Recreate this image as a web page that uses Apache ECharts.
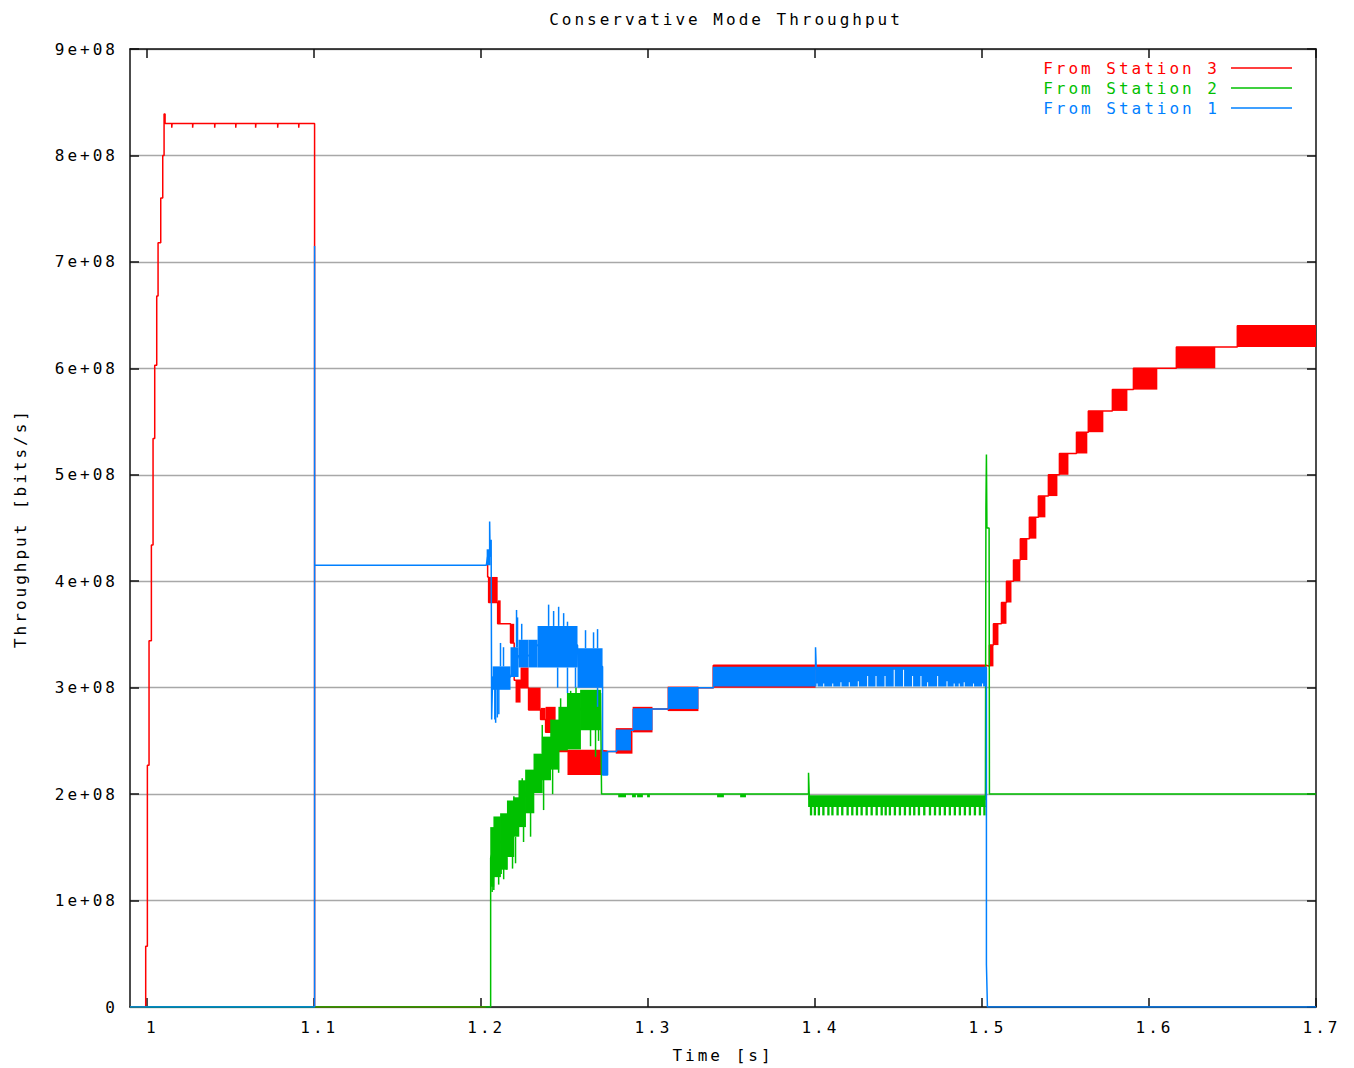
<!DOCTYPE html>
<html>
<head>
<meta charset="utf-8">
<script src="https://cdn.jsdelivr.net/npm/echarts@6.0.0/dist/echarts.min.js"></script>
<style>
html, body { margin: 0; padding: 0; background: #ffffff; }
#chart { width: 1354px; height: 1068px; }
#chart text { letter-spacing: 3px; }
</style>
</head>
<body>
<div id="chart"></div>
<script>
// ---------------- data (time in s, throughput in units of 1e8 bits/s) ----------------
const titleText = 'Conservative Mode Throughput';
const xName = 'Time [s]';
const yName = 'Throughput [bits/s]';
const xTickValues = [1.0, 1.1, 1.2, 1.3, 1.4, 1.5, 1.6, 1.7];
const seriesNames = ['From Station 3', 'From Station 2', 'From Station 1'];
const seriesColors = ['#ff0000', '#00c000', '#0080ff'];

// Station 3 (red) trace
const redLine = [
  [0.99, 0], [0.9994, 0], [0.9994, 0.57], [1.0004, 0.57], [1.0004, 2.27], [1.0014, 2.27],
  [1.0014, 3.44], [1.0028, 3.44], [1.0028, 4.34], [1.0038, 4.34], [1.0038, 5.34], [1.0048, 5.34],
  [1.0048, 6.03], [1.0060, 6.03], [1.0060, 6.68], [1.0068, 6.68], [1.0068, 7.18], [1.0084, 7.18],
  [1.0084, 7.6], [1.0096, 7.6], [1.0096, 8.0], [1.0104, 8.0], [1.0104, 8.39], [1.0110, 8.39],
  [1.0110, 8.3], [1.0150, 8.3], [1.0150, 8.26], [1.0152, 8.3], [1.0275, 8.3], [1.0275, 8.26],
  [1.0277, 8.3], [1.0407, 8.3], [1.0407, 8.26], [1.0409, 8.3], [1.0533, 8.3], [1.0533, 8.26],
  [1.0535, 8.3], [1.0652, 8.3], [1.0652, 8.26], [1.0654, 8.3], [1.0784, 8.3], [1.0784, 8.26],
  [1.0786, 8.3], [1.0910, 8.3], [1.0910, 8.26], [1.0912, 8.3], [1.1005, 8.3], [1.1005, 0],
  [1.2030, 0], [1.2032, null],
  [1.2035, 4.15], [1.2041, 4.15], [1.2041, 4.04], [1.2047, 4.04], [1.2047, 3.8], [1.2101, 3.8],
  [1.2101, 3.6], [1.2178, 3.6], [1.2178, 3.42], [1.2200, 3.42], [1.2200, 3.07], [1.2238, 3.07],
  [1.2238, 3.0], [1.2286, 3.0], [1.2286, 2.79], [1.2358, 2.79], [1.2358, 2.7], [1.2388, 2.7],
  [1.2388, 2.58], [1.2448, 2.58], [1.2448, 2.4], [1.2519, 2.4], [1.2519, 2.41], [1.2729, 2.41],
  [1.2759, 2.4], [1.2813, 2.4], [1.2813, 2.6], [1.2914, 2.6], [1.2914, 2.8], [1.3124, 2.8],
  [1.3124, 3.0], [1.3393, 3.0], [1.3393, 3.21], [1.5027, 3.21], [1.5045, 3.2], [1.5045, 3.4],
  [1.5069, 3.4], [1.5069, 3.6], [1.5117, 3.6], [1.5117, 3.8], [1.5147, 3.8], [1.5147, 4.0],
  [1.5189, 4.0], [1.5189, 4.2], [1.5230, 4.2], [1.5230, 4.4], [1.5284, 4.4], [1.5284, 4.6],
  [1.5338, 4.6], [1.5338, 4.8], [1.5398, 4.8], [1.5398, 5.0], [1.5464, 5.0], [1.5464, 5.2],
  [1.5566, 5.2], [1.5566, 5.4], [1.5637, 5.4], [1.5637, 5.6], [1.5781, 5.6], [1.5781, 5.8],
  [1.5907, 5.8], [1.5907, 6.0], [1.6164, 6.0], [1.6164, 6.2], [1.6529, 6.2], [1.6529, 6.4],
  [1.7, 6.4]
];
// Station 3 oscillation bands [tStart, tEnd, low, high]
const redBands = [
  [1.2047, 1.2101, 3.8, 4.04], [1.2101, 1.2119, 3.6, 3.82], [1.2178, 1.2200, 3.42, 3.6],
  [1.2208, 1.2238, 2.86, 3.07], [1.2238, 1.2286, 3.0, 3.19], [1.2286, 1.2358, 2.79, 3.0],
  [1.2358, 1.2388, 2.7, 2.81], [1.2388, 1.2448, 2.58, 2.82], [1.2448, 1.2519, 2.4, 2.62],
  [1.2519, 1.2729, 2.18, 2.41], [1.2729, 1.2759, 2.18, 2.41], [1.2808, 1.2908, 2.38, 2.62],
  [1.2909, 1.3028, 2.58, 2.82], [1.3119, 1.3303, 2.78, 3.01], [1.3388, 1.4004, 3.0, 3.21],
  [1.4004, 1.5027, 3.17, 3.21],
  [1.5045, 1.5069, 3.2, 3.4], [1.5069, 1.5099, 3.4, 3.6], [1.5117, 1.5147, 3.6, 3.8],
  [1.5147, 1.5177, 3.8, 4.0], [1.5189, 1.5230, 4.0, 4.2], [1.5230, 1.5272, 4.2, 4.4],
  [1.5284, 1.5326, 4.4, 4.6], [1.5338, 1.5380, 4.6, 4.8], [1.5398, 1.5452, 4.8, 5.0],
  [1.5464, 1.5518, 5.0, 5.2], [1.5566, 1.5631, 5.2, 5.4], [1.5637, 1.5727, 5.4, 5.6],
  [1.5781, 1.5871, 5.6, 5.8], [1.5907, 1.6050, 5.8, 6.0], [1.6164, 1.6397, 6.0, 6.2],
  [1.6529, 1.7, 6.2, 6.4]
];

// Station 2 (green) trace
const greenLine = [
  [0.99, 0], [1.2059, 0], [1.2059, 1.4], [1.2078, 1.5], [1.2118, 1.55], [1.2159, 1.65],
  [1.2198, 1.8], [1.2228, 1.9], [1.2268, 2.0], [1.2318, 2.2], [1.2368, 2.35], [1.2418, 2.5],
  [1.2467, 2.6], [1.2518, 2.7], [1.2597, 2.8], [1.2717, 2.95], [1.2723, 2.0], [1.3962, 2.0],
  [1.3962, 2.2], [1.3966, 2.0], [1.3966, 1.95], [1.5021, 1.95], [1.5021, 1.99], [1.5024, 4.68],
  [1.5027, 5.19], [1.5030, 4.5], [1.5043, 4.5], [1.5045, 2.0], [1.7, 2.0]
];
const greenBands = [
  [1.2059, 1.2078, 1.13, 1.69], [1.2078, 1.2118, 1.22, 1.79], [1.2118, 1.2159, 1.29, 1.82],
  [1.2159, 1.2198, 1.41, 1.94], [1.2198, 1.2228, 1.6, 1.97], [1.2228, 1.2268, 1.69, 2.13],
  [1.2268, 1.2318, 1.82, 2.23], [1.2318, 1.2368, 2.01, 2.38], [1.2368, 1.2418, 2.13, 2.54],
  [1.2418, 1.2467, 2.23, 2.7], [1.2467, 1.2518, 2.41, 2.82], [1.2518, 1.2597, 2.42, 2.95],
  [1.2597, 1.2717, 2.6, 2.98], [1.3962, 1.5021, 1.88, 1.99],
  [1.2825, 1.2867, 1.97, 2.0], [1.2908, 1.2926, 1.97, 2.0], [1.2938, 1.2968, 1.97, 2.0],
  [1.2998, 1.3010, 1.97, 2.0], [1.3417, 1.3453, 1.97, 2.0], [1.3555, 1.3585, 1.97, 2.0]
];
// Station 2 short excursions [t, low, high]
const greenSpikes = [
  [1.2068, 1.08, 1.3], [1.2078, 1.1, 1.3], [1.2107, 1.15, 1.3], [1.2122, 1.25, 1.4],
  [1.2137, 1.2, 1.35], [1.2154, 1.29, 1.4], [1.2190, 1.3, 1.5], [1.2208, 1.35, 1.6],
  [1.2256, 1.55, 1.75], [1.2298, 1.6, 1.85], [1.2376, 1.85, 2.15], [1.2430, 2.0, 2.25],
  [1.2466, 2.2, 2.45], [1.2657, 2.45, 2.65], [1.2687, 2.35, 2.65], [1.2705, 2.5, 2.65],
  [1.2089, 1.7, 1.76], [1.2198, 1.9, 1.98], [1.2248, 2.05, 2.15], [1.2368, 2.38, 2.65],
  [1.2478, 2.7, 2.9], [1.2538, 2.9, 2.97], [1.2570, 2.9, 3.0]
];
// Station 2 teeth between 1.4 s and 1.5 s (start time of each tooth)
const greenTeeth = [
  1.3970, 1.3993, 1.4017, 1.4044, 1.4074, 1.4098, 1.4129, 1.4157, 1.4189, 1.4217, 1.4245,
  1.4273, 1.4303, 1.4333, 1.4363, 1.4393, 1.4417, 1.4442, 1.4472, 1.4502, 1.4532, 1.4562,
  1.4588, 1.4616, 1.4648, 1.4682, 1.4712, 1.4741, 1.4771, 1.4801, 1.4831, 1.4861, 1.4891,
  1.4921, 1.4951, 1.4981, 1.5008
];
const greenToothLow = 1.80;
const greenToothHigh = 1.89;

// Station 1 (blue) trace
const blueLine = [
  [0.99, 0], [1.1005, 0], [1.1005, 7.15], [1.1005, 4.15], [1.2033, 4.15], [1.2041, 4.23],
  [1.2053, 4.23], [1.2053, 4.56], [1.2056, 4.23], [1.2062, 4.39], [1.2065, 2.7], [1.2071, 3.1],
  [1.2178, 3.1], [1.2226, 3.3], [1.2286, 3.3], [1.2340, 3.4], [1.2579, 3.4], [1.2583, 3.2],
  [1.2729, 3.2], [1.2729, 2.18], [1.2759, 2.18], [1.2759, 2.4], [1.2813, 2.4], [1.2813, 2.6],
  [1.2914, 2.6], [1.2914, 2.8], [1.3124, 2.8], [1.3124, 3.0], [1.3393, 3.0], [1.3393, 3.19],
  [1.4004, 3.19], [1.4004, 3.38], [1.4008, 3.19], [1.5027, 3.19], [1.5027, 0.4], [1.5033, 0],
  [1.7, 0]
];
const blueBands = [
  [1.2035, 1.2059, 4.15, 4.3], [1.2071, 1.2178, 2.98, 3.2], [1.2178, 1.2226, 3.1, 3.38],
  [1.2226, 1.2286, 3.19, 3.45], [1.2286, 1.2340, 3.19, 3.45], [1.2340, 1.2579, 3.19, 3.58],
  [1.2579, 1.2729, 3.0, 3.37], [1.2729, 1.2759, 2.18, 2.4], [1.2813, 1.2899, 2.41, 2.6],
  [1.2914, 1.3028, 2.6, 2.8], [1.3124, 1.3303, 2.8, 3.0], [1.3393, 1.4006, 3.01, 3.19]
];
// Station 1 band between 1.4 s and 1.5 s, and the short pauses inside it [t, level reached]
const blueLateBand = [1.4004, 1.5027, 3.01, 3.19];
const blueNotches = [
  [1.4010, 3.04], [1.4050, 3.04], [1.4104, 3.04], [1.4153, 3.05], [1.4203, 3.05], [1.4257, 3.06],
  [1.4313, 3.11], [1.4363, 3.11], [1.4417, 3.11], [1.4472, 3.17], [1.4528, 3.17], [1.4582, 3.11],
  [1.4632, 3.11], [1.4672, 3.05], [1.4732, 3.11], [1.4788, 3.06], [1.4831, 3.04], [1.4861, 3.04],
  [1.4891, 3.05], [1.4947, 3.04], [1.5001, 3.04]
];
const blueSpikes = [
  [1.2084, 2.7, 3.0], [1.2089, 2.67, 3.0], [1.2099, 2.72, 3.0], [1.2108, 2.75, 3.0],
  [1.2118, 3.2, 3.42], [1.2136, 3.2, 3.38], [1.2214, 3.38, 3.73], [1.2220, 3.38, 3.66],
  [1.2245, 3.45, 3.6], [1.2406, 3.58, 3.78], [1.2436, 3.58, 3.72], [1.2466, 3.58, 3.76],
  [1.2496, 3.58, 3.7], [1.2519, 3.58, 3.62], [1.2460, 3.0, 3.19], [1.2519, 2.95, 3.19],
  [1.2567, 3.0, 3.19], [1.2627, 3.37, 3.54], [1.2675, 3.37, 3.52], [1.2699, 3.37, 3.55],
  [1.2699, 2.82, 3.0]
];

// ---------------- chart ----------------
const FONT = "'DejaVu Sans Mono', monospace";
const FS = 16;
const chart = echarts.init(document.getElementById('chart'), null, { renderer: 'svg' });

function lineSeries(idx, data) {
  return {
    type: 'line', name: seriesNames[idx], data: data, showSymbol: false, symbol: 'none',
    connectNulls: false, silent: true, clip: true, z: 2 + idx,
    lineStyle: { color: seriesColors[idx], width: 1.5 },
    itemStyle: { color: seriesColors[idx] }
  };
}
function bandSeries(idx, data, pad) {
  const color = seriesColors[idx];
  const p = pad || 0;
  return {
    type: 'custom', name: seriesNames[idx], data: data, silent: true, clip: true, z: 2 + idx,
    encode: { x: [0, 1], y: [2, 3] },
    renderItem: function (params, api) {
      const a = api.coord([api.value(0), api.value(3)]);
      const b = api.coord([api.value(1), api.value(2)]);
      return { type: 'rect', shape: { x: a[0] - p, y: a[1], width: Math.max(b[0] - a[0], 1.2) + 2 * p, height: Math.max(b[1] - a[1], 1) },
        style: { fill: color } };
    }
  };
}
// one band drawn as a single outline, with narrow pauses cut out of its lower part
function notchedBandSeries(idx, band, notches, w) {
  const color = seriesColors[idx];
  return {
    type: 'custom', name: seriesNames[idx], data: [band], silent: true, clip: true, z: 2 + idx,
    encode: { x: [0, 1], y: [2, 3] },
    renderItem: function (params, api) {
      const t0 = api.value(0), t1 = api.value(1), lo = api.value(2), hi = api.value(3);
      const pts = [api.coord([t0, hi]), api.coord([t1, hi]), api.coord([t1, lo])];
      for (let i = notches.length - 1; i >= 0; i--) {
        const t = notches[i][0], lvl = notches[i][1];
        pts.push(api.coord([t + w, lo]), api.coord([t + w, lvl]), api.coord([t, lvl]), api.coord([t, lo]));
      }
      pts.push(api.coord([t0, lo]));
      return { type: 'polygon', shape: { points: pts }, style: { fill: color } };
    }
  };
}
function spikeSeries(idx, data) {
  const color = seriesColors[idx];
  return {
    type: 'custom', name: seriesNames[idx], data: data, silent: true, clip: true, z: 2 + idx,
    encode: { x: 0, y: [1, 2] },
    renderItem: function (params, api) {
      const a = api.coord([api.value(0), api.value(1)]);
      const b = api.coord([api.value(0), api.value(2)]);
      return { type: 'line', shape: { x1: a[0], y1: a[1], x2: b[0], y2: b[1] },
        style: { stroke: color, lineWidth: 1.5 } };
    }
  };
}
const toothBands = greenTeeth.map(t => [t, t + 0.0014, greenToothLow, greenToothHigh]);

const axisLineStyle = { color: '#111', width: 1.5 };
const tickStyle = { color: '#111', width: 1.5 };
const textBase = { fontFamily: FONT, fontSize: FS, color: '#000' };

const option = {
  animation: false,
  backgroundColor: '#ffffff',
  title: {
    text: titleText, left: 726, top: 11, textAlign: 'center', padding: 0,
    textStyle: Object.assign({ fontWeight: 'normal' }, textBase)
  },
  legend: {
    data: seriesNames.map((n, i) => ({ name: n, icon: 'rect', textStyle: { color: seriesColors[i] } })),
    orient: 'vertical', align: 'right', right: 62, top: 58, padding: 0,
    itemWidth: 61, itemHeight: 1.5, itemGap: 0, selectedMode: false,
    textStyle: { fontFamily: FONT, fontSize: FS, lineHeight: 20, padding: [0, 6, 0, 0] }
  },
  grid: { left: 130, right: 38, top: 49, bottom: 61, containLabel: false },
  xAxis: [
    {
      type: 'value', min: 0.99, max: 1.7, position: 'bottom',
      name: xName, nameLocation: 'middle', nameGap: 40, nameTextStyle: textBase,
      axisLine: { show: true, onZero: false, lineStyle: axisLineStyle },
      axisTick: { show: true, inside: true, length: 9, customValues: xTickValues, lineStyle: tickStyle },
      axisLabel: Object.assign({ customValues: xTickValues, margin: 12, padding: [0, 0, 0, 11],
        formatter: v => String(Math.round(v * 10) / 10) }, textBase),
      splitLine: { show: false }
    },
    {
      type: 'value', min: 0.99, max: 1.7, position: 'top',
      axisLine: { show: true, onZero: false, lineStyle: axisLineStyle },
      axisTick: { show: true, inside: true, length: 9, customValues: xTickValues, lineStyle: tickStyle },
      axisLabel: { show: false },
      splitLine: { show: false }
    }
  ],
  yAxis: [
    {
      type: 'value', min: 0, max: 9, interval: 1, position: 'left',
      name: yName, nameLocation: 'middle', nameGap: 102, nameRotate: 90, nameTextStyle: textBase,
      axisLine: { show: true, onZero: false, lineStyle: axisLineStyle },
      axisTick: { show: true, inside: true, length: 9, lineStyle: tickStyle },
      axisLabel: Object.assign({ margin: 12, formatter: v => (v === 0 ? '0' : v + 'e+08') }, textBase),
      splitLine: { show: true, lineStyle: { color: '#a8a8a8', width: 1.4 } }
    },
    {
      type: 'value', min: 0, max: 9, interval: 1, position: 'right',
      axisLine: { show: true, onZero: false, lineStyle: axisLineStyle },
      axisTick: { show: true, inside: true, length: 9, lineStyle: tickStyle },
      axisLabel: { show: false },
      splitLine: { show: false }
    }
  ],
  series: [
    lineSeries(0, redLine),
    bandSeries(0, redBands),
    lineSeries(1, greenLine),
    bandSeries(1, greenBands, 0.4),
    bandSeries(1, toothBands),
    spikeSeries(1, greenSpikes),
    lineSeries(2, blueLine),
    bandSeries(2, blueBands),
    notchedBandSeries(2, blueLateBand, blueNotches, 0.0006),
    spikeSeries(2, blueSpikes)
  ]
};
chart.setOption(option);
</script>
</body>
</html>
